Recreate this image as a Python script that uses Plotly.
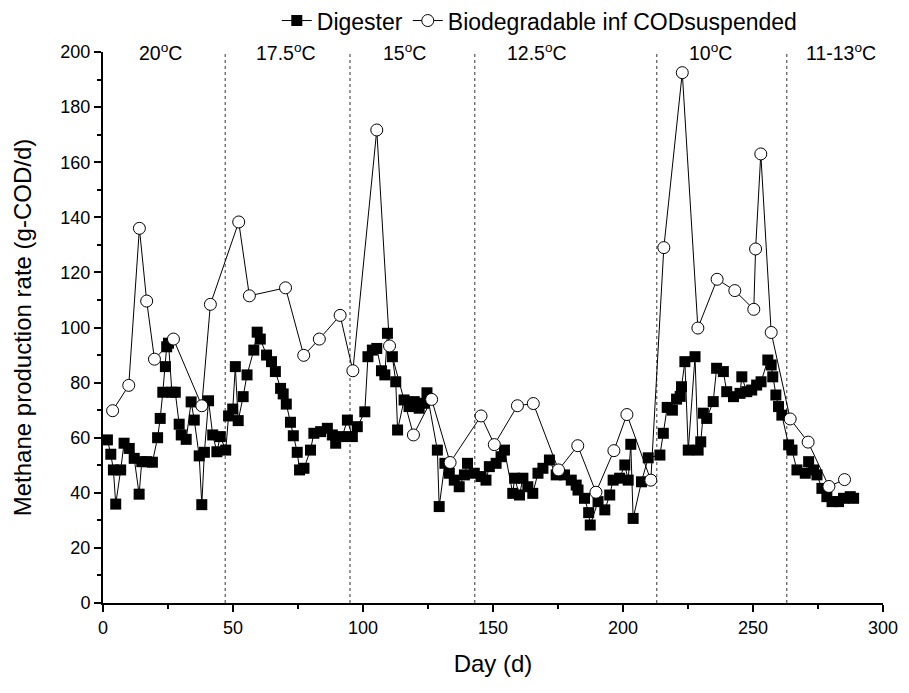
import plotly.graph_objects as go

# Digester methane production (filled squares)
dig_day = [1.7, 3, 4, 4.9, 6.8, 8.1, 10.1, 12, 13.9, 14.9, 16.8, 19, 21, 22, 23, 24, 24.5, 25.2,
           26.5, 27.8, 29.3, 30.1, 32, 33.9, 35.1, 37, 38, 39, 40.6, 42.2, 43.8, 45.1, 47.2,
           48.3, 49.9, 50.9, 52, 53.9, 55.4, 58, 59.3, 60.5, 62.9, 64.8, 66.3, 68.3, 69.3,
           70.5, 72.1, 73.2, 74.7, 75.6, 77.3, 79.8, 81.1, 83.7, 86.3, 88.2, 89.5, 92, 94,
           95.9, 97.8, 100.7, 101.9, 103.6, 105.3, 107.1, 108.4, 109.4, 111.3, 112.6, 113.3,
           115.8, 117.7, 119.7, 121.6, 123.5, 124.6, 128.6, 129.3, 131.5, 133.2, 135.1, 137,
           139, 140.2, 142.8, 145.4, 147.3, 148.6, 151.2, 153.1, 154.4, 157.6, 158.3, 160.2,
           161.5, 163.4, 165.3, 167.3, 169.2, 171.7, 174.3, 177.5, 180.1, 182, 182.7, 185.2,
           186.8, 187.4, 190.4, 193, 194.9, 196.2, 198.7, 200.7, 202, 203, 203.9, 207.1,
           209.7, 214.2, 215.5, 217, 219, 220.6, 222, 222.5, 223.8, 225.1, 227.7, 228.9,
           229.9, 230.9, 232.2, 234.7, 236, 238.6, 239.9, 242.5, 245, 245.7, 247.6, 249.5,
           251.4, 253.1, 255.7, 257, 257.6, 258.8, 259.8, 261.1, 263.7, 265, 266.9, 270.1,
           271.4, 273.3, 274.6, 276.5, 278.4, 280.4, 282.9, 284.8, 287.4, 288.7]
dig_val = [59.2, 54, 48.3, 35.9, 48.3, 58, 56.1, 52.5, 39.5, 51.3, 51.3, 51.1, 60, 67, 76.5, 85.8,
           93, 94.3, 76.5, 76.5, 64.9, 61, 59.4, 73, 66.4, 53.4, 35.7, 54.7, 73.4, 61, 54.9,
           60.4, 55.5, 67.9, 70.4, 85.8, 66.2, 74.9, 82.8, 91.8, 98.3, 95.8, 90, 87.6, 84,
           77.9, 75.9, 72.2, 65.6, 60.7, 54.7, 48.3, 48.9, 55.5, 61.6, 62.2, 63.4, 61, 58,
           60.4, 66.4, 60.4, 64, 69.4, 89.4, 91.8, 92.4, 84.3, 82.8, 97.9, 89.4, 80.3, 62.8,
           73.7, 71.3, 73.1, 70.7, 72.5, 76.3, 55.5, 35, 50.7, 47.1, 44.6, 42.2, 46.5, 50.7,
           47.1, 45.9, 44.6, 49.5, 50.7, 53.1, 55.5, 39.8, 45.3, 39.2, 45.3, 42.2, 39.8, 47.1,
           48.9, 51.9, 46.5, 46.5, 44.6, 42.8, 41, 38, 32.8, 28.3, 36.8, 33.8, 39.2, 44.6,
           45.3, 50.1, 44.6, 57.6, 30.7, 44, 52.7, 53.7, 61.6, 71, 70, 74, 75, 78.5, 87.6,
           55.5, 89.4, 55.5, 58.5, 68.9, 67, 73.1, 85.2, 84, 76.7, 74.9, 76.1, 82.1, 76.7,
           77.3, 79.1, 80.3, 88.2, 86.4, 82.1, 75.5, 71.3, 68.2, 57.4, 55.5, 48.3, 47.1, 51.3,
           48.3, 46.5, 41.6, 38.6, 36.8, 36.8, 38, 38.6, 38]

# Biodegradable influent COD suspended (open circles)
bio_day = [3.7, 9.9, 14, 16.8, 19.8, 27.1, 38, 41.3, 52.2, 56.3, 70.2, 77.2, 83.2, 91.2, 96.1,
           105.3, 110.2, 119.4, 126.4, 133.5, 145.4, 150.5, 159.4, 165.5, 175.2, 182.6, 189.6,
           196.5, 201.5, 210.7, 215.7, 222.8, 228.8, 236.2, 243, 250.3, 251, 253, 257, 264.3,
           271.2, 279.2, 285.2]
bio_val = [69.8, 79, 136, 109.6, 88.5, 95.8, 71.6, 108.4, 138.3, 111.5, 114.4, 89.9, 95.8, 104.4,
           84.3, 171.7, 93.3, 61, 73.9, 51, 67.9, 57.5, 71.6, 72.4, 48.3, 57.1, 40.2, 55.3, 68.4,
           44.6, 129, 192.5, 99.8, 117.5, 113.4, 106.6, 128.5, 163, 98.2, 66.8, 58.4, 42.3, 44.8]

# Temperature phases
phase_bounds = [47, 95, 143, 213, 263]
phase_labels = ["20<sup>o</sup>C", "17.5<sup>o</sup>C", "15<sup>o</sup>C", "12.5<sup>o</sup>C",
                "10<sup>o</sup>C", "11-13<sup>o</sup>C"]
phase_label_x = [22, 70.5, 116, 167, 233.5, 284]

FONT = "Arial"

fig = go.Figure()
fig.add_trace(go.Scatter(
    x=dig_day, y=dig_val, mode="lines+markers", name="Digester",
    line=dict(color="black", width=1),
    marker=dict(symbol="square", size=11, color="black", line=dict(width=0)),
))
fig.add_trace(go.Scatter(
    x=bio_day, y=bio_val, mode="lines+markers", name="Biodegradable inf CODsuspended",
    line=dict(color="black", width=1),
    marker=dict(symbol="circle", size=12, color="white", line=dict(color="black", width=1)),
))

for b in phase_bounds:
    fig.add_shape(type="line", xref="x", yref="y", x0=b, x1=b, y0=0, y1=200,
                  line=dict(color="#333333", width=1, dash="dot"), layer="below")

for lx, lt in zip(phase_label_x, phase_labels):
    fig.add_annotation(x=lx, y=200, xref="x", yref="y", text=lt, showarrow=False,
                       yanchor="middle", font=dict(family=FONT, size=19.5, color="black"))

fig.update_layout(
    width=901, height=685,
    margin=dict(l=95, r=26, t=44, b=90, autoexpand=False),
    paper_bgcolor="white", plot_bgcolor="white",
    font=dict(family=FONT, color="black"),
    showlegend=True,
    legend=dict(orientation="h", x=0.56, xanchor="center", y=1.057, yanchor="middle",
                font=dict(family=FONT, size=23, color="black"), bgcolor="rgba(0,0,0,0)",
                tracegroupgap=0),
)
fig.update_xaxes(
    range=[0, 300], tickvals=[0, 50, 100, 150, 200, 250, 300], automargin=False,
    showline=True, linecolor="black", linewidth=2, showgrid=False, zeroline=False,
    ticks="outside", ticklen=7, tickwidth=1.5, tickcolor="black",
    minor=dict(ticks="outside", ticklen=4, tickwidth=1.5, tickcolor="black", dtick=25, showgrid=False),
    tickfont=dict(family=FONT, size=18, color="black"),
    title=dict(text="Day (d)", font=dict(family=FONT, size=24, color="black"), standoff=19),
)
fig.update_yaxes(
    range=[0, 200], dtick=20, tick0=0, automargin=False,
    showline=True, linecolor="black", linewidth=2, showgrid=False, zeroline=False,
    ticks="outside", ticklen=7, tickwidth=1.5, tickcolor="black",
    minor=dict(ticks="outside", ticklen=4, tickwidth=1.5, tickcolor="black", dtick=10, showgrid=False),
    tickfont=dict(family=FONT, size=18, color="black"),
    title=dict(text="Methane production rate (g-COD/d)", font=dict(family=FONT, size=24, color="black"),
               standoff=22),
)

fig.write_html("out.html")
